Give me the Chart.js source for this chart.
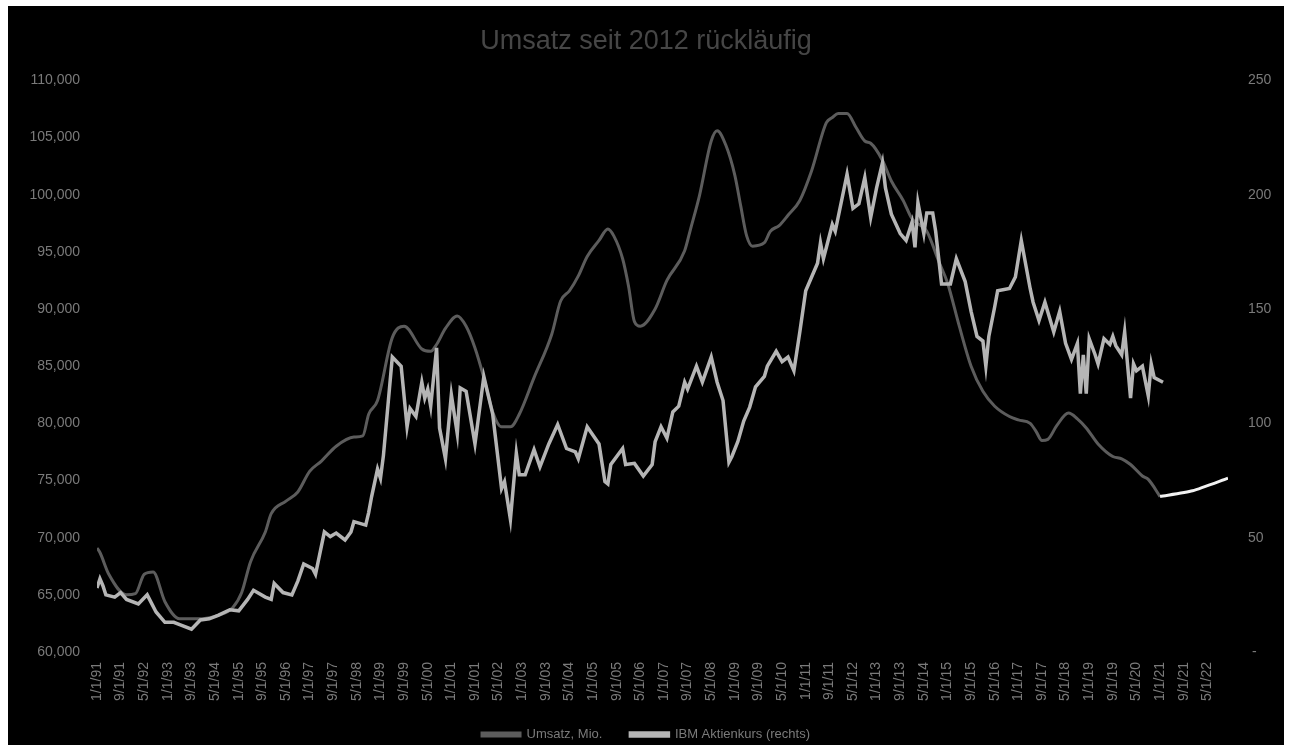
<!DOCTYPE html>
<html>
<head>
<meta charset="utf-8">
<script src="https://cdn.jsdelivr.net/npm/chart.js@4.4.1/dist/chart.umd.min.js"></script>
<style>
  html, body { margin: 0; padding: 0; background: #fff; }
  #wrap { position: absolute; left: 8px; top: 6px; width: 1276px; height: 739px; background: #000; }
</style>
</head>
<body>
<div id="wrap"><canvas id="chart"></canvas></div>
<script>
// Monate ab Januar 1991 (0 = 1/1/91)
const umsatzMonat = [0, 1, 4, 10, 13, 16, 19, 23, 28, 34, 41, 46, 49, 52, 57, 59, 64, 68, 72, 76, 81, 87, 90, 92, 95,
  100, 104, 110, 113, 115, 118, 122, 125, 128, 131, 134, 137, 140, 143, 148, 154, 157, 160, 163, 166, 170, 173, 175,
  178, 180, 182, 184, 189, 193, 199, 201, 204, 208, 210, 213, 216, 218, 220, 222, 226, 228, 231, 234, 238, 242, 247,
  249, 251, 254, 257, 260, 262, 266, 269, 273, 276, 281, 285, 288, 292, 296, 300, 304, 309, 312, 316, 318, 320, 322,
  325, 329, 332, 335, 339, 344, 347, 350, 354, 356, 360];
const umsatzWert = [69100, 68700, 66800, 65000, 65100, 66800, 67000, 64400, 62900, 62900, 63200, 63900, 65200, 67900,
  70500, 72100, 73200, 74000, 75800, 76700, 78000, 78800, 78900, 80800, 82000, 87500, 88500, 86500, 86300, 86900,
  88300, 89400, 88500, 86600, 84000, 81000, 79700, 79700, 80800, 84000, 87800, 90700, 91600, 92900, 94600, 96000,
  97000, 96400, 94400, 92000, 88900, 88500, 90000, 92500, 95100, 97000, 99900, 104700, 105600, 104300, 101700, 99000,
  96400, 95500, 95800, 96800, 97300, 98200, 99500, 102100, 106300, 106750, 107100, 107100, 105900, 104700, 104500,
  103000, 101200, 99500, 97900, 96800, 94200, 92300, 88500, 85000, 82800, 81500, 80600, 80300, 80000, 79300, 78500,
  78600, 79800, 80900, 80400, 79600, 78200, 77100, 76900, 76400, 75400, 75100, 73600];

const ibmMonat = [0, 1, 2, 3, 6, 8, 10, 14, 17, 20, 23, 26, 28, 32, 35, 38, 41, 45, 48, 51, 53, 57, 59, 60, 63, 66, 68,
  70, 73, 74, 77, 79, 81, 84, 86, 87, 91, 92, 93, 95, 96, 97, 100, 103, 105, 106, 108, 110, 111, 112, 113, 115, 116,
  118, 120, 122, 123, 125, 128, 131, 134, 137, 138, 140, 142, 143, 145, 148, 150, 153, 156, 159, 162, 163, 166, 170,
  172, 173, 174, 178, 179, 182, 185, 188, 189, 191, 193, 195, 197, 199, 200, 203, 205, 208, 210, 212, 214, 215, 217,
  219, 221, 223, 226, 227, 230, 232, 234, 236, 238, 240, 244, 245, 246, 249, 250, 254, 256, 258, 260, 262, 264, 266,
  267, 269, 272, 274, 276, 277, 278, 280, 281, 283, 284, 286, 289, 291, 294, 296, 298, 300, 301, 302, 304, 305, 309,
  311, 313, 316, 317, 319, 321, 324, 326, 328, 330, 332, 333, 334, 335, 336, 338, 339, 341, 343, 344, 345, 347, 348,
  350, 351, 352, 354, 356, 357, 358, 361];
const ibmKurs = [28, 32, 29, 25, 24, 26, 23, 21, 25, 17.5, 13, 13, 12, 10, 14, 14.5, 16, 18.5, 18, 23, 27, 24, 23, 30,
  26, 25, 31, 38.5, 36.5, 34, 52.5, 50.5, 52, 49, 52.5, 57, 55.5, 61, 68, 80, 76, 86, 129, 125, 98.5, 106.5, 103, 118,
  111, 115, 107.5, 133, 98, 84.5, 112.5, 95.5, 115.5, 114, 91, 120.5, 104, 71.5, 74.5, 58, 87, 77.5, 77.5, 88.5, 81,
  91, 99.5, 89, 87.5, 84.5, 98.5, 91, 74.5, 73.5, 82, 89, 82, 82.5, 77, 82, 92, 98.5, 93.5, 105, 107.5, 118, 115, 125,
  118, 129, 118, 110, 83, 85.5, 92, 101, 107, 116, 120.5, 125, 131.5, 127, 129, 123, 140, 158, 170, 179, 172, 187,
  184, 209, 194, 196, 207.5, 190, 203, 214, 203, 191.5, 183, 180, 188, 177, 196.5, 183, 192, 192, 184, 161, 161, 172,
  162, 149, 138, 136, 125, 138, 151, 158, 159, 164, 180, 159, 153, 145, 153, 140, 149, 135, 128, 135, 113, 130, 113,
  137, 130, 126, 137, 134.5, 138, 134, 130, 140, 111, 126, 123, 125, 112, 126, 120, 118];

const prognoseMonat = [360, 371, 383];
const prognoseWert = [73600, 74100, 75200];

const xTickLabels = ['1/1/91', '9/1/91', '5/1/92', '1/1/93', '9/1/93', '5/1/94', '1/1/95', '9/1/95', '5/1/96',
  '1/1/97', '9/1/97', '5/1/98', '1/1/99', '9/1/99', '5/1/00', '1/1/01', '9/1/01', '5/1/02', '1/1/03', '9/1/03',
  '5/1/04', '1/1/05', '9/1/05', '5/1/06', '1/1/07', '9/1/07', '5/1/08', '1/1/09', '9/1/09', '5/1/10', '1/1/11',
  '9/1/11', '5/1/12', '1/1/13', '9/1/13', '5/1/14', '1/1/15', '9/1/15', '5/1/16', '1/1/17', '9/1/17', '5/1/18',
  '1/1/19', '9/1/19', '5/1/20', '1/1/21', '9/1/21', '5/1/22'];

const pts = (xs, ys) => xs.map((x, i) => ({ x: x, y: ys[i] }));
const FONT = "'Liberation Sans', Arial, sans-serif";
const TICK = '#7a7a7a';

new Chart(document.getElementById('chart'), {
  type: 'line',
  data: {
    datasets: [
      { label: 'Umsatz, Mio.', data: pts(umsatzMonat, umsatzWert), yAxisID: 'y',
        borderColor: '#5c5c5c', backgroundColor: '#5c5c5c', borderWidth: 3, tension: 0.35,
        cubicInterpolationMode: 'monotone', pointRadius: 0, order: 2 },
      { label: 'IBM Aktienkurs (rechts)', data: pts(ibmMonat, ibmKurs), yAxisID: 'y2',
        borderColor: '#b5b5b5', backgroundColor: '#b5b5b5', borderWidth: 3.5, tension: 0,
        pointRadius: 0, order: 1 },
      { label: 'Prognose', data: pts(prognoseMonat, prognoseWert), yAxisID: 'y',
        borderColor: '#f2f2f2', backgroundColor: '#f2f2f2', borderWidth: 3, tension: 0.2,
        pointRadius: 0, order: 0 }
    ]
  },
  options: {
    responsive: true,
    maintainAspectRatio: false,
    animation: false,
    layout: { padding: { left: 0, right: 0, top: 0, bottom: -6 } },
    plugins: {
      title: { display: true, text: 'Umsatz seit 2012 rückläufig', color: '#464646',
        font: { family: FONT, size: 27, weight: 'normal' }, padding: { top: 19, bottom: 23 } },
      legend: {
        position: 'bottom',
        labels: {
          color: TICK, font: { family: FONT, size: 13 }, boxWidth: 38, boxHeight: 3, padding: 28,
          filter: item => item.text !== 'Prognose',
          sort: (a, b) => a.datasetIndex - b.datasetIndex
        }
      },
      tooltip: { enabled: false }
    },
    scales: {
      x: {
        type: 'linear', min: 0, max: 383,
        grid: { display: false }, border: { display: false },
        // labels may run below the axis box, so no clipping
        afterFit: s => { s.height = 48; s._computeLabelArea = () => null; },
        ticks: {
          stepSize: 8, includeBounds: false, autoSkip: false, maxRotation: 90, minRotation: 90,
          color: TICK, font: { family: FONT, size: 14 }, padding: 2,
          callback: v => xTickLabels[v / 8]
        }
      },
      y: {
        position: 'left', min: 60000, max: 110000,
        grid: { display: false }, border: { display: false },
        afterFit: s => { s.width = 89; },
        ticks: { stepSize: 5000, color: TICK, font: { family: FONT, size: 14 }, padding: 9,
          callback: v => v.toLocaleString('en-US') }
      },
      y2: {
        position: 'right', min: 0, max: 250,
        grid: { display: false }, border: { display: false },
        afterFit: s => { s.width = 56; },
        ticks: { stepSize: 50, color: TICK, font: { family: FONT, size: 14 }, padding: 12,
          callback: v => v === 0 ? ' -' : String(v) }
      }
    }
  }
});
</script>
</body>
</html>
